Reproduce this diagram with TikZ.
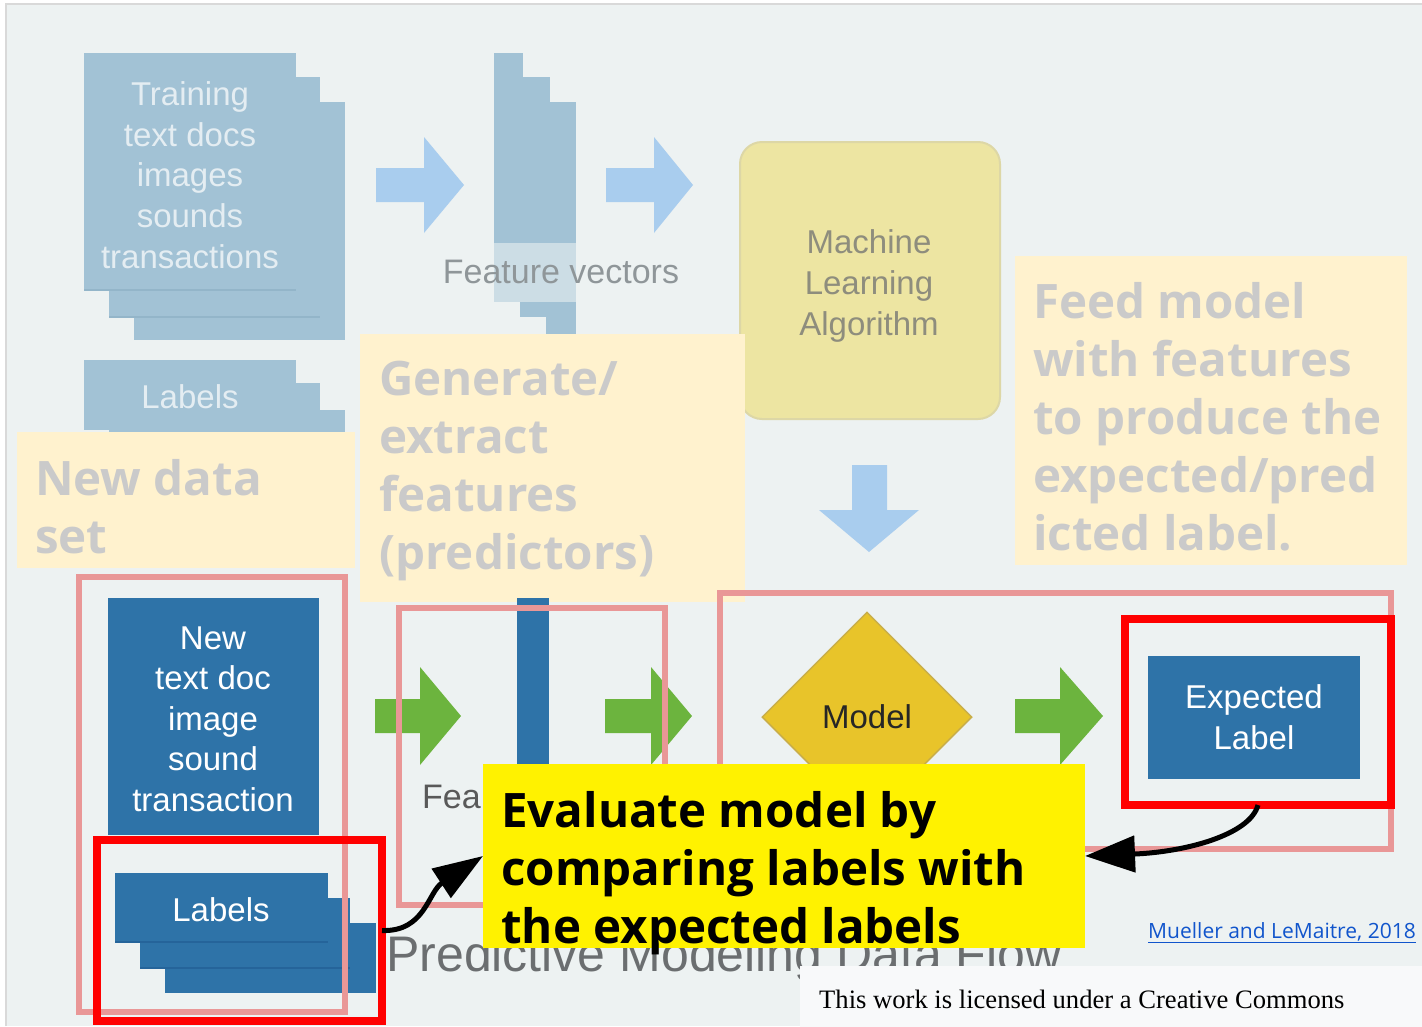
\documentclass[tikz,border=0pt]{standalone}
\usepackage{fontspec}
\setmainfont{Liberation Sans}
\newfontfamily\osans{Open Sans}
\newfontfamily\tnr{Liberation Serif}
\usetikzlibrary{arrows.meta,shapes.geometric}
\definecolor{bgc}{HTML}{EDF2F2}
\definecolor{stackc}{HTML}{A2C2D5}
\definecolor{stackline}{HTML}{93B5C9}
\definecolor{stacktxt}{HTML}{E4EDF2}
\definecolor{fvtxt}{HTML}{8F9699}
\definecolor{fvband}{HTML}{CCDDE5}
\definecolor{lblue}{HTML}{A9CDEE}
\definecolor{mlfill}{HTML}{EDE5A2}
\definecolor{mldraw}{HTML}{DDD7A6}
\definecolor{mltxt}{HTML}{8E8D7D}
\definecolor{creamc}{HTML}{FFF2CE}
\definecolor{creamtxt}{HTML}{CACACA}
\definecolor{pinkc}{HTML}{E99797}
\definecolor{dblue}{HTML}{2E73A8}
\definecolor{dbline}{HTML}{25649A}
\definecolor{greenc}{HTML}{6CB43E}
\definecolor{goldc}{HTML}{E8C42A}
\definecolor{golddraw}{HTML}{C9AE4A}
\definecolor{linkc}{HTML}{1155CC}
\definecolor{licc}{HTML}{F8F9FA}
\definecolor{titlec}{HTML}{6B6E70}
\tikzset{
  blk/.style={rectangle, inner sep=0pt, outer sep=0pt, anchor=north west, draw=none},
  stk/.style={blk, fill=stackc},
  dstk/.style={blk, fill=dblue},
  stxt/.style={text=stacktxt, align=center, font=\fontsize{33}{40.6}\selectfont, inner sep=0pt},
  wtxt/.style={text=white, align=center, font=\fontsize{33}{40.6}\selectfont, inner sep=0pt},
  cream/.style={blk, fill=creamc},
  bigtxt/.style={anchor=north west, align=left, inner sep=0pt,
     font=\osans\bfseries\fontsize{47.5}{58}\selectfont},
  creamtext/.style={bigtxt, text=creamtxt},
  pinkbox/.style={blk, draw=pinkc, line width=6pt},
  redbox/.style={blk, draw=red, line width=8pt},
  callout/.style={line width=5pt, black},
}
\begin{document}
\begin{tikzpicture}[x=1pt,y=-1pt]
\useasboundingbox (0,0) rectangle (1422,1026);
\fill[white] (0,0) rectangle (1422,1026);
\fill[bgc] (6,4) rectangle (1422,1026);
\draw[line width=2pt, black!15] (6,1026) -- (6,4) -- (1422,4);

% ---- training stack
\node[stk, minimum width=211, minimum height=238] (tr3) at (134,102) {};
\node[stk, minimum width=211, minimum height=240] (tr2) at (109,77) {};
\draw[stackline, line width=1.5pt] (tr2.south west) -- (tr2.south east);
\node[stk, minimum width=212, minimum height=237] (tr1) at (84,53) {};
\draw[stackline, line width=1.5pt] (tr1.south west) -- (tr1.south east);
\node[stxt] (trtxt) at (190,175) {Training\\text docs\\images\\sounds\\transactions};

% ---- labels stack (top)
\node[stk, minimum width=211, minimum height=70] (lb3) at (134,410) {};
\node[stk, minimum width=211, minimum height=70] (lb2) at (109,383) {};
\node[stk, minimum width=212, minimum height=70] (lb1) at (84,360) {};
\node[stxt] (lbtxt) at (190,397) {Labels};

% ---- feature vectors stack
\node[stk, minimum width=30, minimum height=243] (fv3) at (546,102) {};
\node[stk, minimum width=30, minimum height=240] (fv2) at (520,77) {};
\node[stk, minimum width=29, minimum height=249] (fv1) at (494,53) {};
\node[blk, fill=fvband, minimum width=82, minimum height=59] (fvb) at (494,243) {};
\node[text=fvtxt, font=\fontsize{34}{40}\selectfont, inner sep=0pt] (fvtxt) at (561,272) {Feature vectors};

% ---- light blue arrows
\fill[lblue] (376,168) -- (424,168) -- (424,137) -- (464,185) -- (424,233) -- (424,202) -- (376,202) -- cycle;
\fill[lblue] (606,168) -- (654,168) -- (654,137) -- (693,185) -- (654,233) -- (654,202) -- (606,202) -- cycle;

% ---- ML algorithm
\node[blk, fill=mlfill, draw=mldraw, line width=2pt, rounded corners=22pt, minimum width=260, minimum height=277] (ml) at (740,142) {};
\node[text=mltxt, align=center, font=\fontsize{33}{40.6}\selectfont, inner sep=0pt] (mltxt) at (869,286) {Machine\\Learning\\Algorithm};
\fill[lblue] (852,465) -- (887,465) -- (887,510) -- (919,510) -- (869,552) -- (819,510) -- (852,510) -- cycle;

% ---- cream annotation boxes
\node[cream, minimum width=338, minimum height=136] (newdata) at (17,432) {};
\node[creamtext] (newdatatxt) at (35,459) {New data\\set};
\node[cream, minimum width=385, minimum height=268] (gen) at (360,334) {};
\node[creamtext] (gentxt) at (379,361) {Generate/\\extract\\features\\(predictors)};
\node[cream, minimum width=392, minimum height=309] (feed) at (1015,256) {};
\node[creamtext] (feedtxt) at (1033,282) {Feed model\\with features\\to produce the\\expected/pred\\icted label.};

% ---- bottom row
\node[blk, fill=dblue, minimum width=32, minimum height=175] (fcol) at (517,598) {};
\node[anchor=base west, text=black!65, font=\fontsize{34}{40}\selectfont, inner sep=0pt] (fvbot) at (422,808) {Fea};

\node[dstk, minimum width=211, minimum height=237] (newdoc) at (108,598) {};
\node[wtxt] (newdoctxt) at (213,719) {New\\text doc\\image\\sound\\transaction};

\node[dstk, minimum width=211, minimum height=70] (bl3) at (165,923) {};
\node[dstk, minimum width=210, minimum height=70] (bl2) at (140,898) {};
\draw[dbline, line width=1.5pt] (bl2.south west) -- (bl2.south east);
\node[dstk, minimum width=213, minimum height=69] (bl1) at (115,873) {};
\draw[dbline, line width=1.5pt] (bl1.south west) -- (bl1.south east);
\node[wtxt] (bltxt) at (221,910) {Labels};

\fill[greenc] (375,699) -- (420,699) -- (420,667) -- (461,716) -- (420,765) -- (420,733) -- (375,733) -- cycle;
\fill[greenc] (605,699) -- (651,699) -- (651,667) -- (692,716) -- (651,765) -- (651,733) -- (605,733) -- cycle;
\fill[greenc] (1015,699) -- (1060,699) -- (1060,667) -- (1103,716) -- (1060,765) -- (1060,733) -- (1015,733) -- cycle;

\node[diamond, fill=goldc, draw=golddraw, line width=1.5pt, minimum width=210, minimum height=210, inner sep=0pt, text=black!85, font=\fontsize{33}{40}\selectfont] (model) at (867,717) {Model};

\node[dstk, minimum width=212, minimum height=123] (exp) at (1148,656) {};
\node[wtxt] (exptxt) at (1254,717) {Expected\\Label};

\node[pinkbox, minimum width=266, minimum height=435] (p1) at (79,577) {};
\node[pinkbox, minimum width=266, minimum height=297] (p2) at (399,608) {};
\node[pinkbox, minimum width=671, minimum height=256] (p3) at (720,593) {};

\node[anchor=base west, text=titlec, font=\fontsize{50}{60}\selectfont, inner sep=0pt] (title) at (386,971) {Predictive Modeling Data Flow};

\node[redbox, minimum width=285, minimum height=181] (r1) at (97,840) {};
\node[redbox, minimum width=266, minimum height=186] (r2) at (1125,619) {};

% ---- yellow callout
\node[blk, fill=yellow, minimum width=602, minimum height=184] (yel) at (483,764) {};
\node[bigtxt] (yeltxt) at (501,791) {Evaluate model by\\comparing labels with\\the expected labels};

\draw[callout, -{Triangle[length=50pt,width=34pt]}] (r1.east) .. controls (425,932) and (428,892) .. (yel.west);
\draw[callout, -{Triangle[length=50pt,width=36pt]}] (r2.south) .. controls (1250,835) and (1185,852) .. (yel.east);

% ---- credits
\node[anchor=base east, text=linkc, font=\osans\fontsize{21}{25}\selectfont, inner sep=0pt] (link) at (1416,938) {\underline{Mueller and LeMaitre, 2018}};
\node[blk, fill=licc, minimum width=622, minimum height=61] (lic) at (800,966) {};
\node[anchor=base west, inner sep=0pt, font=\tnr\fontsize{26.6}{30}\selectfont] (lictxt) at (819,1008) {This work is licensed under a Creative Commons};
\end{tikzpicture}
\end{document}
